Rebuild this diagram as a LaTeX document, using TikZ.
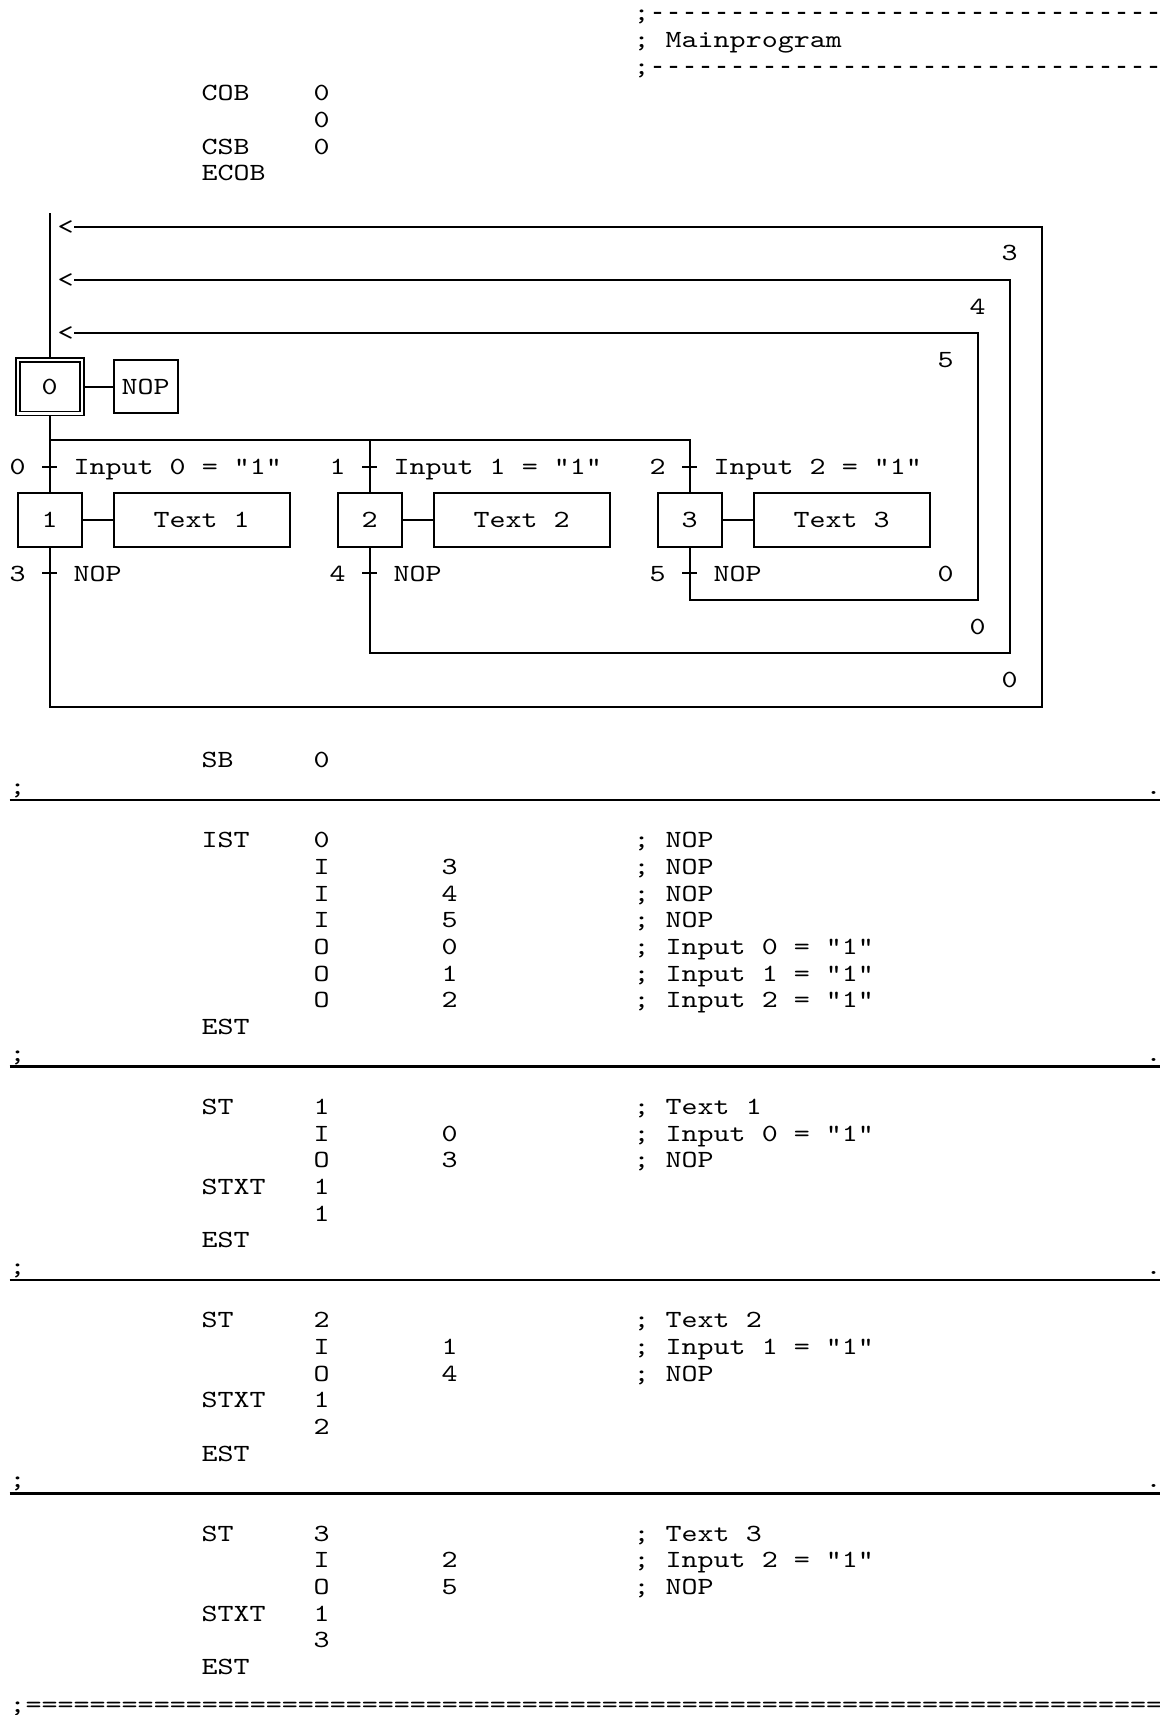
\documentclass[tikz,border=0pt]{standalone}
\usepackage{fontspec}
\setmonofont{lmmono10-regular.otf}[FakeStretch=1.236]
\newfontfamily\dashfont{Liberation Mono}[Ligatures=TeXOff]
\tikzset{
  txt/.style={anchor=base west, inner sep=0pt, outer sep=0pt},
  dtxt/.style={txt, font=\dashfont\fontsize{20}{20}\selectfont},
  ln/.style={line width=1.5pt},
  sepl/.style={line width=2pt},
  boxbase/.style={draw, line width=1.5pt, inner sep=0pt, outer sep=0pt, minimum height=40pt},
  stepbox/.style={boxbase, minimum width=48pt},
  actbox/.style={boxbase, minimum width=48pt},
  textbox/.style={boxbase, minimum width=132pt},
  initstep/.style={draw, line width=1.2pt, double, double distance=1.8pt, inner sep=0pt, outer sep=2pt, minimum width=48pt, minimum height=40pt}
}
\newcommand\gt[4]{\node[txt] (#1) at ({9.7+16*(#2)},{20.93+26.67*(#3)}) {#4};}
\newcommand\sepl[2]{%
  \gt{#1a}{0}{#2}{;}
  \gt{#1b}{71}{#2}{.}
  \coordinate (#1l) at (9.7,{26.63+26.67*(#2)});
  \coordinate (#1r) at (1170,{26.63+26.67*(#2)});
  \draw[sepl] (#1l) -- (#1r);}
\begin{document}
\begin{tikzpicture}[x=0.75pt,y=-0.75pt,font=\ttfamily\fontsize{18.5}{20}\selectfont\frenchspacing]
\useasboundingbox (0,0) rectangle (1159,1715);
% header
\gt{h0s}{39}{0}{;}
\node[dtxt] (h0) at (649.7,20.93) {--------------------------------};
\gt{h1}{39}{1}{; Mainprogram}
\gt{h2s}{39}{2}{;}
\node[dtxt] (h2) at (649.7,74.27) {--------------------------------};
\gt{c1}{12}{3}{COB}  \gt{c1v}{19}{3}{0}
\gt{c2v}{19}{4}{0}
\gt{c3}{12}{5}{CSB}  \gt{c3v}{19}{5}{0}
\gt{c4}{12}{6}{ECOB}
% ---------------- diagram ----------------
\coordinate (top) at (49.7,213.3);
\node[initstep] (s0) at (49.7,386.7) {0};
\node[actbox] (a0) at (145.7,386.7) {NOP};
\node[stepbox] (s1) at (49.7,520) {1};
\node[textbox] (x1) at (201.7,520) {Text 1};
\node[stepbox] (s2) at (369.7,520) {2};
\node[textbox] (x2) at (521.7,520) {Text 2};
\node[stepbox] (s3) at (689.7,520) {3};
\node[textbox] (x3) at (841.7,520) {Text 3};
\draw[ln] (top) -- (s0.north);
\draw[ln] (s0.east) -- (a0.west);
\draw[ln] (s1.east) -- (x1.west);
\draw[ln] (s2.east) -- (x2.west);
\draw[ln] (s3.east) -- (x3.west);
% branch
\coordinate (b1) at (49.7,440);
\coordinate (b2) at (369.7,440);
\coordinate (b3) at (689.7,440);
\draw[ln] (s0.south) -- (s1.north);
\draw[ln] (b1) -- (b3) -- (s3.north);
\draw[ln] (b2) -- (s2.north);
% ticks
\foreach \cx/\nm in {49.7/a,369.7/b,689.7/c}{
  \coordinate (tk1\nm l) at ({\cx-7.5},466.7);
  \coordinate (tk1\nm r) at ({\cx+7.5},466.7);
  \draw[ln] (tk1\nm l) -- (tk1\nm r);
  \coordinate (tk2\nm l) at ({\cx-7.5},573.4);
  \coordinate (tk2\nm r) at ({\cx+7.5},573.4);
  \draw[ln] (tk2\nm l) -- (tk2\nm r);
}
% loops
\coordinate (l3a) at (49.7,706.7);
\coordinate (l3b) at (1041.7,706.7);
\coordinate (l3c) at (1041.7,226.7);
\coordinate (l3d) at (73.7,226.7);
\draw[ln] (s1.south) -- (l3a) -- (l3b) -- (l3c) -- (l3d);
\coordinate (l4a) at (369.7,653.4);
\coordinate (l4b) at (1009.7,653.4);
\coordinate (l4c) at (1009.7,280);
\coordinate (l4d) at (73.7,280);
\draw[ln] (s2.south) -- (l4a) -- (l4b) -- (l4c) -- (l4d);
\coordinate (l5a) at (689.7,600);
\coordinate (l5b) at (977.7,600);
\coordinate (l5c) at (977.7,333.4);
\coordinate (l5d) at (73.7,333.4);
\draw[ln] (s3.south) -- (l5a) -- (l5b) -- (l5c) -- (l5d);
\gt{ar3}{3}{8}{<}
\gt{ar4}{3}{10}{<}
\gt{ar5}{3}{12}{<}
\gt{lb3}{62}{9}{3}
\gt{lb4}{60}{11}{4}
\gt{lb5}{58}{13}{5}
\gt{lz5}{58}{21}{0}
\gt{lz4}{60}{23}{0}
\gt{lz3}{62}{25}{0}
\gt{tn0}{0}{17}{0}   \gt{tc0}{4}{17}{Input 0 = "1"}
\gt{tn1}{20}{17}{1}  \gt{tc1}{24}{17}{Input 1 = "1"}
\gt{tn2}{40}{17}{2}  \gt{tc2}{44}{17}{Input 2 = "1"}
\gt{tn3}{0}{21}{3}   \gt{tc3}{4}{21}{NOP}
\gt{tn4}{20}{21}{4}  \gt{tc4}{24}{21}{NOP}
\gt{tn5}{40}{21}{5}  \gt{tc5}{44}{21}{NOP}
% ---------------- code ----------------
\gt{sb}{12}{28}{SB} \gt{sbv}{19}{28}{0}
\sepl{sp1}{29}
\gt{r31a}{12}{31}{IST} \gt{r31b}{19}{31}{0} \gt{r31c}{39}{31}{; NOP}
\gt{r32b}{19}{32}{I} \gt{r32c}{27}{32}{3} \gt{r32d}{39}{32}{; NOP}
\gt{r33b}{19}{33}{I} \gt{r33c}{27}{33}{4} \gt{r33d}{39}{33}{; NOP}
\gt{r34b}{19}{34}{I} \gt{r34c}{27}{34}{5} \gt{r34d}{39}{34}{; NOP}
\gt{r35b}{19}{35}{O} \gt{r35c}{27}{35}{0} \gt{r35d}{39}{35}{; Input 0 = "1"}
\gt{r36b}{19}{36}{O} \gt{r36c}{27}{36}{1} \gt{r36d}{39}{36}{; Input 1 = "1"}
\gt{r37b}{19}{37}{O} \gt{r37c}{27}{37}{2} \gt{r37d}{39}{37}{; Input 2 = "1"}
\gt{r38a}{12}{38}{EST}
\sepl{sp2}{39}
\gt{r41a}{12}{41}{ST} \gt{r41b}{19}{41}{1} \gt{r41d}{39}{41}{; Text 1}
\gt{r42b}{19}{42}{I} \gt{r42c}{27}{42}{0} \gt{r42d}{39}{42}{; Input 0 = "1"}
\gt{r43b}{19}{43}{O} \gt{r43c}{27}{43}{3} \gt{r43d}{39}{43}{; NOP}
\gt{r44a}{12}{44}{STXT} \gt{r44b}{19}{44}{1}
\gt{r45b}{19}{45}{1}
\gt{r46a}{12}{46}{EST}
\sepl{sp3}{47}
\gt{r49a}{12}{49}{ST} \gt{r49b}{19}{49}{2} \gt{r49d}{39}{49}{; Text 2}
\gt{r50b}{19}{50}{I} \gt{r50c}{27}{50}{1} \gt{r50d}{39}{50}{; Input 1 = "1"}
\gt{r51b}{19}{51}{O} \gt{r51c}{27}{51}{4} \gt{r51d}{39}{51}{; NOP}
\gt{r52a}{12}{52}{STXT} \gt{r52b}{19}{52}{1}
\gt{r53b}{19}{53}{2}
\gt{r54a}{12}{54}{EST}
\sepl{sp4}{55}
\gt{r57a}{12}{57}{ST} \gt{r57b}{19}{57}{3} \gt{r57d}{39}{57}{; Text 3}
\gt{r58b}{19}{58}{I} \gt{r58c}{27}{58}{2} \gt{r58d}{39}{58}{; Input 2 = "1"}
\gt{r59b}{19}{59}{O} \gt{r59c}{27}{59}{5} \gt{r59d}{39}{59}{; NOP}
\gt{r60a}{12}{60}{STXT} \gt{r60b}{19}{60}{1}
\gt{r61b}{19}{61}{3}
\gt{r62a}{12}{62}{EST}
\node[txt] (eq) at (9.7,1712) {;=======================================================================};
\end{tikzpicture}
\end{document}
